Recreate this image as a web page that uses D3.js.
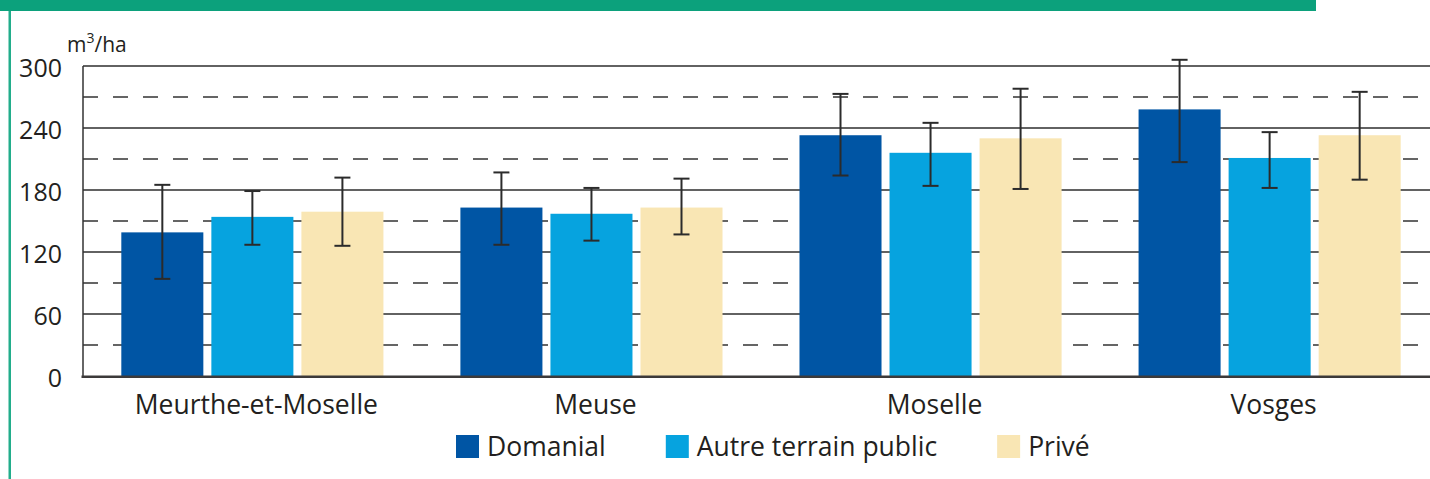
<!DOCTYPE html>
<html>
<head>
<meta charset="utf-8">
<script src="https://cdn.jsdelivr.net/npm/d3@7"></script>
<style>
  html, body { margin: 0; padding: 0; background: #fff; }
  svg { display: block; font-family: 'Open Sans', 'Noto Sans', sans-serif; }
</style>
</head>
<body>
<figure id="chart" style="margin:0"></figure>
<script>
// volumes par hectare, par département et type de propriété
const regions = ['Meurthe-et-Moselle', 'Meuse', 'Moselle', 'Vosges'];
const series = ['Domanial', 'Autre terrain public', 'Privé'];

const domanial = [139, 163, 233, 258];
const autrePublic = [154, 157, 216, 211];
const prive = [159, 163, 230, 233];

// intervalles de confiance (bas / haut)
const domanialLow = [94, 127, 194, 207];
const domanialHigh = [185, 197, 273, 306];
const autreLow = [127, 131, 184, 182];
const autreHigh = [179, 182, 245, 236];
const priveLow = [126, 137, 181, 190];
const priveHigh = [192, 191, 278, 275];

const yTicks = [0, 60, 120, 180, 240, 300];
const yDashed = [30, 90, 150, 210, 270];

const colors = ['#0055a4', '#06a3df', '#f9e6b4'];

const width = 1430;
const height = 479;
const margin = {left: 83, top: 66, bottom: 103};

const values = [domanial, autrePublic, prive];
const lows = [domanialLow, autreLow, priveLow];
const highs = [domanialHigh, autreHigh, priveHigh];

const rows = [];
regions.forEach((r, i) => {
  series.forEach((s, j) => {
    rows.push({region: r, serie: s, value: values[j][i], low: lows[j][i], high: highs[j][i], color: colors[j]});
  });
});

const svg = d3.select('#chart')
  .append('svg')
  .attr('width', width)
  .attr('height', height)
  .attr('viewBox', `0 0 ${width} ${height}`);

const x0 = d3.scaleBand()
  .domain(regions)
  .range([margin.left, 1439])
  .paddingInner(0.227)
  .paddingOuter(0.113);

const x1 = d3.scaleBand()
  .domain(series)
  .range([0, x0.bandwidth()])
  .paddingInner(0.089);

const y = d3.scaleLinear()
  .domain([0, 300])
  .range([height - margin.bottom, margin.top]);

// cadre vert
svg.append('rect')
  .attr('x', 0).attr('y', 0)
  .attr('width', 1316).attr('height', 11)
  .attr('fill', '#0ca17c');
svg.append('rect')
  .attr('x', 8.5).attr('y', 11)
  .attr('width', 2.5).attr('height', height - 11)
  .attr('fill', '#22ad8b');

// grille
svg.append('g')
  .selectAll('line')
  .data(yDashed)
  .enter().append('line')
  .attr('x1', margin.left).attr('x2', width)
  .attr('y1', d => y(d)).attr('y2', d => y(d))
  .attr('stroke', '#333')
  .attr('stroke-width', 1.5)
  .attr('stroke-dasharray', '15,15');

svg.append('g')
  .selectAll('line')
  .data(yTicks.filter(t => t > 0))
  .enter().append('line')
  .attr('x1', margin.left).attr('x2', width)
  .attr('y1', d => y(d)).attr('y2', d => y(d))
  .attr('stroke', '#2e2e2e')
  .attr('stroke-width', 1.5);

// barres
svg.append('g')
  .selectAll('rect')
  .data(rows)
  .enter().append('rect')
  .attr('x', d => x0(d.region) + x1(d.serie))
  .attr('y', d => y(d.value))
  .attr('width', x1.bandwidth())
  .attr('height', d => y(0) - y(d.value))
  .attr('fill', d => d.color);

// axes
svg.append('line')
  .attr('x1', margin.left).attr('x2', margin.left)
  .attr('y1', y(300)).attr('y2', y(0) + 1)
  .attr('stroke', '#333')
  .attr('stroke-width', 1.5);
svg.append('line')
  .attr('x1', margin.left - 1.5).attr('x2', width)
  .attr('y1', y(0) + 0.8).attr('y2', y(0) + 0.8)
  .attr('stroke', '#3c3a3a')
  .attr('stroke-width', 2.6);

// barres d'erreur
const err = svg.append('g')
  .selectAll('g')
  .data(rows)
  .enter().append('g')
  .attr('stroke', '#2b2b2b')
  .attr('stroke-width', 2);
const cx = d => x0(d.region) + x1(d.serie) + x1.bandwidth() / 2;
err.append('line')
  .attr('x1', cx).attr('x2', cx)
  .attr('y1', d => y(d.high)).attr('y2', d => y(d.low));
err.append('line')
  .attr('x1', d => cx(d) - 8).attr('x2', d => cx(d) + 8)
  .attr('y1', d => y(d.high)).attr('y2', d => y(d.high));
err.append('line')
  .attr('x1', d => cx(d) - 8).attr('x2', d => cx(d) + 8)
  .attr('y1', d => y(d.low)).attr('y2', d => y(d.low));

// étiquettes axe Y
svg.append('g')
  .selectAll('text')
  .data(yTicks)
  .enter().append('text')
  .attr('x', 62)
  .attr('y', d => y(d) + 2)
  .attr('dy', '0.35em')
  .attr('text-anchor', 'end')
  .attr('font-size', 25)
  .attr('fill', '#231f20')
  .text(d => d);

const unit = svg.append('text')
  .attr('x', 67)
  .attr('y', 52)
  .attr('font-size', 21)
  .attr('fill', '#231f20');
unit.append('tspan').text('m');
unit.append('tspan').attr('font-size', 14).attr('dy', -9).text('3');
unit.append('tspan').attr('dy', 9).text('/ha');

// étiquettes catégories
svg.append('g')
  .selectAll('text')
  .data(regions)
  .enter().append('text')
  .attr('x', d => x0(d) + x0.bandwidth() / 2 + 4)
  .attr('y', 414)
  .attr('text-anchor', 'middle')
  .attr('font-size', 26.5)
  .attr('fill', '#231f20')
  .text(d => d);

// légende
const legend = svg.append('g');
let lx = 456;
series.forEach((s, i) => {
  legend.append('rect')
    .attr('x', lx).attr('y', 435)
    .attr('width', 23).attr('height', 23)
    .attr('fill', colors[i]);
  const t = legend.append('text')
    .attr('x', lx + 31)
    .attr('y', 456)
    .attr('font-size', 26.5)
    .attr('fill', '#231f20')
    .text(s);
  lx += 31 + t.node().getComputedTextLength() + 60;
});
</script>
</body>
</html>
